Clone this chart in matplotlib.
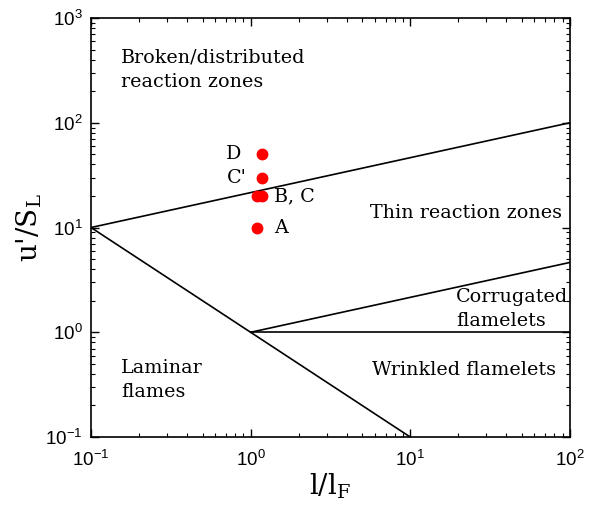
import numpy as np
import matplotlib
matplotlib.use("Agg")
import matplotlib.pyplot as plt

# Borghi-type regime diagram for premixed turbulent combustion

plt.rcParams['font.family'] = 'sans-serif'
plt.rcParams['font.sans-serif'] = ['Liberation Sans', 'DejaVu Sans']
plt.rcParams['mathtext.default'] = 'regular'

# regime boundaries (l/lF, u'/SL)
ka100_x = [0.1, 100.0]
ka100_y = [10.0, 100.0]
ka1_x = [1.0, 100.0]
ka1_y = [1.0, 4.64]
re1_x = [0.1, 10.0]
re1_y = [10.0, 0.1]
u1_x = [1.0, 100.0]
u1_y = [1.0, 1.0]

# operating points
pt_names = ['A', 'B', 'C', "C'", 'D']
pt_x = [1.1, 1.1, 1.17, 1.17, 1.17]
pt_y = [10.0, 20.0, 20.0, 30.0, 50.0]

serif = 'DejaVu Serif'

fig = plt.figure(figsize=(5.89, 5.07), dpi=100)
ax = fig.add_axes([0.1545, 0.138, 0.813, 0.8265])

for xs, ys in [(ka100_x, ka100_y), (ka1_x, ka1_y), (re1_x, re1_y), (u1_x, u1_y)]:
    ax.plot(xs, ys, color='black', lw=1.2)

ax.plot(pt_x, pt_y, 'o', color='red', ms=7.5, mec='red', zorder=3)

ax.set_xscale('log')
ax.set_yscale('log')
ax.set_xlim(0.1, 100)
ax.set_ylim(0.1, 1000)

ax.tick_params(which='both', direction='in', top=True, right=True, labelsize=13.5)
ax.tick_params(which='major', length=6, width=1)
ax.tick_params(which='minor', length=3, width=0.8)
ax.tick_params(axis='x', pad=9)
ax.tick_params(axis='y', pad=6)
for s in ax.spines.values():
    s.set_linewidth(1.2)

ax.set_xlabel(r"l/l$_\mathregular{F}$", fontfamily=serif, fontsize=20, labelpad=1)
ax.set_ylabel(r"u'/S$_\mathregular{L}$", fontfamily=serif, fontsize=20, labelpad=1)

# regime labels
fs = 13.8
ax.text(0.154, 320, 'Broken/distributed\nreaction zones', fontfamily=serif,
        fontsize=fs, ha='left', va='center', linespacing=1.45)
ax.text(5.6, 13.9, 'Thin reaction zones', fontfamily=serif, fontsize=fs,
        ha='left', va='center')
ax.text(19.4, 1.66, 'Corrugated\nflamelets', fontfamily=serif, fontsize=fs,
        ha='left', va='center', linespacing=1.45)
ax.text(5.8, 0.435, 'Wrinkled flamelets', fontfamily=serif, fontsize=fs,
        ha='left', va='center')
ax.text(0.154, 0.349, 'Laminar\nflames', fontfamily=serif, fontsize=fs,
        ha='left', va='center', linespacing=1.45)

# point labels
ax.text(0.87, 50, 'D', fontfamily=serif, fontsize=fs, ha='right', va='center')
ax.text(0.945, 30, "C'", fontfamily=serif, fontsize=fs, ha='right', va='center')
ax.text(1.41, 20, 'B, C', fontfamily=serif, fontsize=fs, ha='left', va='center')
ax.text(1.41, 10, 'A', fontfamily=serif, fontsize=fs, ha='left', va='center')

fig.savefig('out.png', dpi=100)
